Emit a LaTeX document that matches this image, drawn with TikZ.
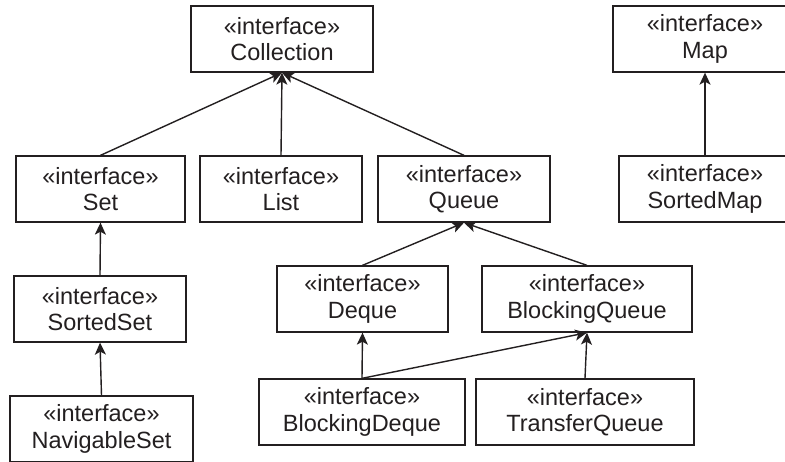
\documentclass[tikz,border=0pt]{standalone}
\usepackage{fontspec}
\setmainfont{Liberation Sans}
\usetikzlibrary{arrows.meta}
\definecolor{ink}{HTML}{231F20}
\begin{document}
\begin{tikzpicture}[x=1pt,y=-1pt,
  ibox/.style={draw=ink, line width=1.3pt, text=ink, inner sep=0pt, minimum height=66pt,
    align=center, font=\fontsize{23.5}{26.5}\selectfont},
  inh/.style={draw=ink, line width=1.4pt, -{Stealth[length=12pt,width=11pt,inset=3pt]}}]
\useasboundingbox (0,0) rectangle (785,461);
\clip (0,0) rectangle (785,461);
\fill[white] (0,0) rectangle (785,461);
\node[ibox, minimum width=182pt] (coll) at (282,39) {«interface»\\Collection};
\node[ibox, minimum width=184pt] (map) at (705,39) {«interface»\\Map};
\node[ibox, minimum width=169pt] (set) at (100.5,189) {«interface»\\Set};
\node[ibox, minimum width=162pt] (list) at (281,189) {«interface»\\List};
\node[ibox, minimum width=172pt] (queue) at (464,189) {«interface»\\Queue};
\node[ibox, minimum width=172pt] (smap) at (705,189) {«interface»\\SortedMap};
\node[ibox, minimum width=172pt] (sset) at (100,309) {«interface»\\SortedSet};
\node[ibox, minimum width=171pt] (deque) at (362.5,299) {«interface»\\Deque};
\node[ibox, minimum width=210pt] (bq) at (587,299) {«interface»\\BlockingQueue};
\node[ibox, minimum width=206pt] (bd) at (362,412) {«interface»\\BlockingDeque};
\node[ibox, minimum width=218pt] (tq) at (585,412) {«interface»\\TransferQueue};
\node[ibox, minimum width=183pt] (nset) at (101.5,429) {«interface»\\NavigableSet};
\draw[inh] (set.north) -- (coll.south);
\draw[inh] (list.north) -- (coll.south);
\draw[inh] (queue.north) -- (coll.south);
\draw[inh] (smap.north) -- (map.south);
\draw[inh] (sset.north) -- (set.south);
\draw[inh] (nset.north) -- (sset.south);
\draw[inh] (deque.north) -- (queue.south);
\draw[inh] (bq.north) -- (queue.south);
\draw[inh] (bd.north) -- (deque.south);
\draw[inh] (bd.north) -- (bq.south);
\draw[inh] (tq.north) -- (bq.south);
\end{tikzpicture}
\end{document}
